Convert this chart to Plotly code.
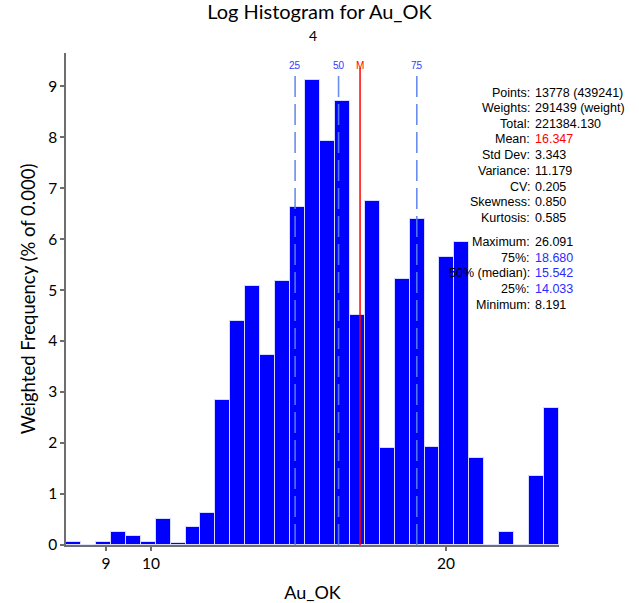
import numpy as np
import plotly.graph_objects as go

# ---- data ----
variable = "Au_OK"
x_min = 8.191
x_max = 26.091
heights = [0.05, 0, 0.05, 0.26, 0.18, 0.065, 0.51, 0.04, 0.36, 0.63,
           2.84, 4.39, 5.08, 3.73, 5.18, 6.62, 9.13, 7.93, 8.71, 4.52,
           6.75, 1.90, 5.22, 6.39, 1.93, 5.65, 5.94, 1.71, 0, 0.255,
           0, 1.35, 2.69]
q25, q50, q75 = 14.033, 15.542, 18.680
mean_val = 16.347
x_tickvals = [9, 10, 20]
y_tickvals = [0, 1, 2, 3, 4, 5, 6, 7, 8, 9]
stat_labels = ["Points:", "Weights:", "Total:", "Mean:", "Std Dev:", "Variance:",
               "CV:", "Skewness:", "Kurtosis:", "Maximum:", "75%:", "50% (median):",
               "25%:", "Minimum:"]
stat_values = ["13778 (439241)", "291439 (weight)", "221384.130", "16.347", "3.343",
               "11.179", "0.205", "0.850", "0.585", "26.091", "18.680", "15.542",
               "14.033", "8.191"]
stat_colors = ["black", "black", "black", "red", "black", "black", "black", "black",
               "black", "black", "#2b2bff", "#2b2bff", "#2b2bff", "black"]

# ---- bins (equal width in log space) ----
n = len(heights)
edges = np.geomspace(x_min, x_max, n + 1)
left, right = edges[:-1], edges[1:]
centers = (left + right) / 2
widths = right - left

# ---- layout geometry (pixels) ----
W, H = 639, 603
L, R, T, B = 66, 80, 53, 58
pw, ph = W - L - R, H - T - B

def px_x(px):
    return (px - L) / pw

def px_y(py):
    return (H - B - py) / ph

AXIS_FONT = "Lato"
STAT_FONT = "Liberation Sans"

fig = go.Figure()
fig.add_trace(go.Bar(
    x=centers, y=heights, width=widths,
    marker=dict(color="#0000ff", line=dict(color="rgba(225,228,255,0.9)", width=1)),
    hoverinfo="skip", showlegend=False,
))

shapes = []
annotations = []
line_top = px_y(68)
for q, lab in [(q25, "25"), (q50, "50"), (q75, "75")]:
    shapes.append(dict(type="line", xref="x", yref="paper", x0=q, x1=q, y0=0, y1=line_top,
                       line=dict(color="rgba(90,130,235,0.9)", width=1.6, dash="21px,7px")))
    annotations.append(dict(xref="x", yref="paper", x=np.log10(q), y=px_y(58), text=lab,
                            showarrow=False, font=dict(family=STAT_FONT, size=10, color="#3a3aff")))
shapes.append(dict(type="line", xref="x", yref="paper", x0=mean_val, x1=mean_val, y0=0, y1=line_top,
                   line=dict(color="red", width=1.5)))
annotations.append(dict(xref="x", yref="paper", x=np.log10(mean_val), y=px_y(58), text="M",
                        showarrow=False, font=dict(family=STAT_FONT, size=10, color="red")))

# stats block
row_y = [92.7, 107.9, 123.5, 139.2, 155.0, 170.7, 186.5, 202.2, 217.9,
         242.3, 257.8, 273.4, 289.0, 304.6]
for lab, val, col, yy in zip(stat_labels, stat_values, stat_colors, row_y):
    annotations.append(dict(xref="paper", yref="paper", x=px_x(532), y=px_y(yy), text=lab,
                            xanchor="right", yanchor="middle", showarrow=False,
                            font=dict(family=STAT_FONT, size=12.5, color="black")))
    annotations.append(dict(xref="paper", yref="paper", x=px_x(533), y=px_y(yy), text=val,
                            xanchor="left", yanchor="middle", showarrow=False,
                            font=dict(family=STAT_FONT, size=12.5, color=col)))

# subtitle
annotations.append(dict(xref="paper", yref="paper", x=0.5, y=px_y(36), text="4",
                        xanchor="center", yanchor="middle", showarrow=False,
                        font=dict(family=AXIS_FONT, size=14, color="black")))

axis_col = "#6e6e6e"
fig.update_layout(
    width=W, height=H,
    margin=dict(l=L, r=R, t=T, b=B, autoexpand=False),
    paper_bgcolor="white", plot_bgcolor="white",
    title=dict(text="Log Histogram for " + variable, x=px_x(312.5), xanchor="center",
               y=1 - 12 / H, yanchor="middle", yref="container",
               font=dict(family=AXIS_FONT, size=20, color="black")),
    xaxis=dict(type="log", range=[np.log10(x_min), np.log10(x_max)],
               tickvals=x_tickvals, ticktext=[str(v) for v in x_tickvals],
               showgrid=False, zeroline=False, showline=True, linecolor=axis_col, linewidth=1.5,
               ticks="outside", ticklen=4, tickcolor=axis_col, tickwidth=1.5,
               tickfont=dict(family=AXIS_FONT, size=15.5, color="black"),
               title=dict(text=variable, standoff=16, font=dict(family=AXIS_FONT, size=18, color="black"))),
    yaxis=dict(range=[0, 9.65], tickvals=y_tickvals,
               showgrid=False, zeroline=False, showline=True, linecolor=axis_col, linewidth=1.5,
               ticks="outside", ticklen=4, tickcolor=axis_col, tickwidth=1.5,
               tickfont=dict(family=AXIS_FONT, size=15.5, color="black"),
               title=dict(text="Weighted Frequency (% of 0.000)", standoff=8,
                          font=dict(family=AXIS_FONT, size=18.5, color="black"))),
    shapes=shapes, annotations=annotations,
    bargap=0,
)

fig.write_html("out.html")
